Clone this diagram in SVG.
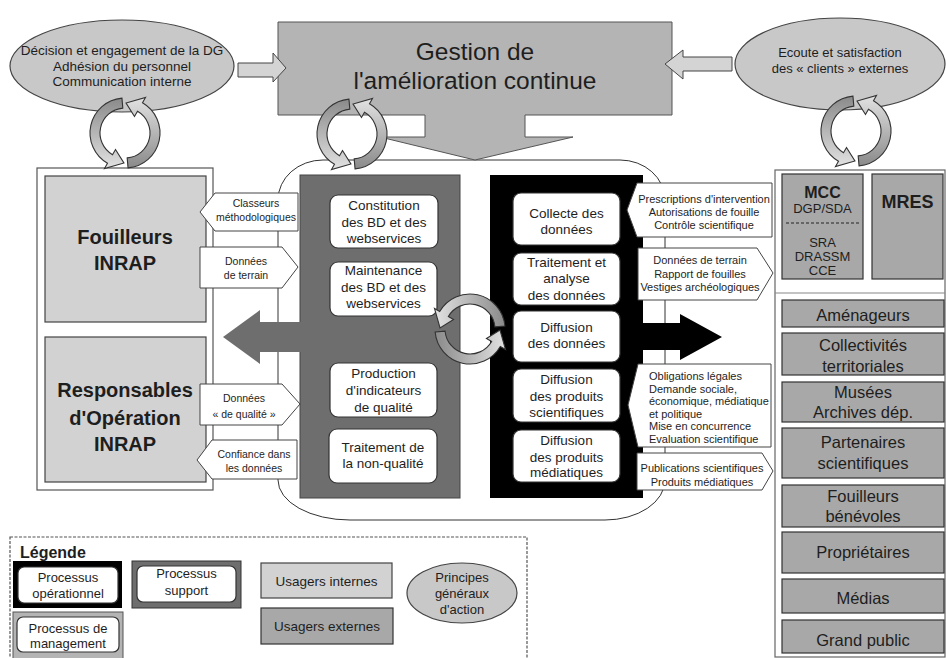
<svg xmlns="http://www.w3.org/2000/svg" width="946" height="658" viewBox="0 0 946 658">
<defs>
<style>
text{font-family:"Liberation Sans",Arial,Helvetica,sans-serif;fill:#1e1e1e;text-anchor:middle}
.f10{font-size:10.5px}
.f11{font-size:11px}
.f13{font-size:13px}
.f135{font-size:13.5px}
.f17{font-size:16.5px}
.big{font-size:20px;font-weight:bold}
.ell{fill:#c8c8c8;stroke:#444;stroke-width:1.2}
.wbox{fill:#fff;stroke:#333;stroke-width:1.2}
.flow{fill:#fff;stroke:#444;stroke-width:1}
.ext{fill:#a8a8a8;stroke:#333;stroke-width:1.2}
.int{fill:#d2d2d2;stroke:#444;stroke-width:1.2}
.garr{fill:#d4d4d4;stroke:#444;stroke-width:1}
.cyc{stroke:#333;stroke-width:1.1}
</style>
<linearGradient id="gL" x1="0" y1="0" x2="0" y2="1"><stop offset="0" stop-color="#8a8a8a"/><stop offset="1" stop-color="#e2e2e2"/></linearGradient>
<linearGradient id="gR" x1="0" y1="0" x2="0" y2="1"><stop offset="0" stop-color="#e2e2e2"/><stop offset="1" stop-color="#8a8a8a"/></linearGradient>
<g id="cycle">
<path class="cyc" fill="url(#gL)" d="M -3.05,-34.87 A 35 35 0 0 0 -17.5,30.31 L -20.5,35.51 L -1.05,29.98 L -9.5,16.45 L -12.5,21.65 A 25 25 0 0 1 -2.18,-24.9 Z"/>
<path class="cyc" fill="url(#gR)" d="M 3.05,34.87 A 35 35 0 0 0 17.5,-30.31 L 20.5,-35.51 L 1.05,-29.98 L 9.5,-16.45 L 12.5,-21.65 A 25 25 0 0 1 2.18,24.9 Z"/>
</g>
</defs>
<rect width="946" height="658" fill="#fff"/>

<!-- central rounded enclosure -->
<g id="enclosure">
<path d="M 323,160 H 620 A 45 40 0 0 1 665 200 V 480 A 60 40 0 0 1 605 520 H 350 A 72 40 0 0 1 278 480 V 200 A 45 40 0 0 1 323 160 Z" fill="#fff" stroke="#333" stroke-width="1"/>
</g>

<!-- top ellipses and management -->
<g id="principes-internes">
<ellipse class="ell" cx="122" cy="66" rx="112" ry="46"/>
<text class="f135" x="122" y="55">Décision et engagement de la DG</text>
<text class="f135" x="122" y="70.5">Adhésion du personnel</text>
<text class="f135" x="122" y="86">Communication interne</text>
</g>
<g id="principes-externes">
<ellipse class="ell" cx="840" cy="64" rx="105" ry="46"/>
<text class="f13" x="840" y="57">Ecoute et satisfaction</text>
<text class="f13" x="840" y="73">des « clients » externes</text>
</g>
<g id="gestion">
<path d="M 278,22 H 672 V 115 H 525 V 137 H 573 L 475,160 L 380,137 H 425 V 115 H 278 Z" fill="#b4b4b4" stroke="#555" stroke-width="1"/>
<text x="475" y="60" style="font-size:24.5px">Gestion de</text>
<text x="475" y="89" style="font-size:24.5px">l'amélioration continue</text>
</g>

<!-- left panel: internal users -->
<g id="usagers-internes">
<rect x="37" y="168" width="176" height="322" fill="#fff" stroke="#555" stroke-width="1.2"/>
<g id="fouilleurs-inrap">
<rect class="int" x="45" y="176" width="161" height="146"/>
<text class="big" x="125" y="244">Fouilleurs</text>
<text class="big" x="125" y="270">INRAP</text>
</g>
<g id="responsables">
<rect class="int" x="45" y="337" width="161" height="145"/>
<text class="big" x="125" y="397">Responsables</text>
<text class="big" x="125" y="425">d'Opération</text>
<text class="big" x="125" y="451">INRAP</text>
</g>
</g>

<!-- support process column -->
<g id="processus-support">
<rect x="300" y="175" width="160" height="323" fill="#6e6e6e" stroke="#444" stroke-width="1"/>
<g id="constitution">
<rect class="wbox" x="330" y="195" width="108" height="53" rx="8"/>
<text class="f135" x="384" y="210">Constitution</text>
<text class="f135" x="384" y="226.5">des BD et des</text>
<text class="f135" x="384" y="243">webservices</text>
</g>
<g id="maintenance">
<rect class="wbox" x="330" y="262" width="107" height="54" rx="8"/>
<text class="f135" x="383.5" y="275">Maintenance</text>
<text class="f135" x="383.5" y="292">des BD et des</text>
<text class="f135" x="383.5" y="308">webservices</text>
</g>
<g id="production">
<rect class="wbox" x="330" y="363" width="107" height="54" rx="8"/>
<text class="f135" x="383.5" y="378">Production</text>
<text class="f135" x="383.5" y="395">d'indicateurs</text>
<text class="f135" x="383.5" y="412">de qualité</text>
</g>
<g id="non-qualite">
<rect class="wbox" x="329" y="429" width="108" height="54" rx="8"/>
<text class="f135" x="383" y="452">Traitement de</text>
<text class="f135" x="383" y="468">la non-qualité</text>
</g>
</g>

<!-- operational process column -->
<g id="processus-operationnel">
<rect x="490" y="175" width="153" height="323" fill="#000"/>
<g id="collecte">
<rect class="wbox" x="513" y="193" width="107" height="52" rx="8"/>
<text class="f135" x="566.5" y="218">Collecte des</text>
<text class="f135" x="566.5" y="234">données</text>
</g>
<g id="traitement">
<rect class="wbox" x="513" y="253" width="107" height="52" rx="8"/>
<text class="f135" x="566.5" y="267">Traitement et</text>
<text class="f135" x="566.5" y="283">analyse</text>
<text class="f135" x="566.5" y="300">des données</text>
</g>
<g id="diffusion-donnees">
<rect class="wbox" x="513" y="311" width="107" height="51" rx="8"/>
<text class="f135" x="566.5" y="332">Diffusion</text>
<text class="f135" x="566.5" y="348">des données</text>
</g>
<g id="diffusion-scientifiques">
<rect class="wbox" x="513" y="369" width="107" height="53" rx="8"/>
<text class="f135" x="566.5" y="384">Diffusion</text>
<text class="f135" x="566.5" y="401">des produits</text>
<text class="f135" x="566.5" y="417">scientifiques</text>
</g>
<g id="diffusion-mediatiques">
<rect class="wbox" x="513" y="430" width="107" height="52" rx="8"/>
<text class="f135" x="566.5" y="445">Diffusion</text>
<text class="f135" x="566.5" y="462">des produits</text>
<text class="f135" x="566.5" y="477">médiatiques</text>
</g>
</g>

<!-- right panel: external users -->
<g id="usagers-externes">
<rect x="775" y="170" width="170" height="487" fill="#fff" stroke="#666" stroke-width="1.2"/>
<line x1="775" y1="293" x2="945" y2="293" stroke="#888" stroke-width="1.2"/>
<g id="mcc">
<rect class="ext" x="782" y="174" width="81" height="105"/>
<text x="822.5" y="198" style="font-size:16px;font-weight:bold">MCC</text>
<text class="f13" x="822.5" y="213">DGP/SDA</text>
<line x1="786" y1="223" x2="859" y2="223" stroke="#222" stroke-width="1.2" stroke-dasharray="3,2"/>
<text class="f13" x="822.5" y="247">SRA</text>
<text class="f13" x="822.5" y="261">DRASSM</text>
<text class="f13" x="822.5" y="275">CCE</text>
</g>
<g id="mres">
<rect class="ext" x="872" y="174" width="71" height="105"/>
<text x="907.5" y="208" style="font-size:18px;font-weight:bold">MRES</text>
</g>
<g id="amenageurs"><rect class="ext" x="782" y="300" width="162" height="27"/><text class="f17" x="863" y="321">Aménageurs</text></g>
<g id="collectivites"><rect class="ext" x="782" y="333" width="162" height="42"/><text class="f17" x="863" y="351">Collectivités</text><text class="f17" x="863" y="371.5">territoriales</text></g>
<g id="musees"><rect class="ext" x="782" y="382" width="162" height="40"/><text class="f17" x="863" y="398">Musées</text><text class="f17" x="863" y="417.5">Archives dép.</text></g>
<g id="partenaires"><rect class="ext" x="782" y="428" width="162" height="50"/><text class="f17" x="863" y="448">Partenaires</text><text class="f17" x="863" y="469">scientifiques</text></g>
<g id="benevoles"><rect class="ext" x="782" y="485" width="162" height="42"/><text class="f17" x="863" y="502">Fouilleurs</text><text class="f17" x="863" y="522">bénévoles</text></g>
<g id="proprietaires"><rect class="ext" x="782" y="532" width="162" height="41"/><text class="f17" x="863" y="558">Propriétaires</text></g>
<g id="medias"><rect class="ext" x="782" y="579" width="162" height="34"/><text class="f17" x="863" y="604">Médias</text></g>
<g id="grand-public"><rect class="ext" x="782" y="620" width="162" height="33"/><text class="f17" x="863" y="646">Grand public</text></g>
</g>

<!-- connectors -->
<g id="connectors">
<path class="garr" d="M 238,63 H 273 V 53 L 286,68 L 273,82 V 77 H 238 Z"/>
<path class="garr" d="M 732,57 H 683 V 50 L 665,64 L 683,79 V 71 H 732 Z"/>
<path d="M 302,322 H 260 V 310 L 223,337 L 260,364 V 352 H 302 Z" fill="#6e6e6e"/>
<path d="M 641,323 H 680 V 314 L 722,337 L 680,360 V 350 H 641 Z" fill="#000"/>
<g id="flow-classeurs">
<path class="flow" d="M 200,212 L 215,193 H 298 V 231 H 215 Z"/>
<text class="f10" x="256" y="207">Classeurs</text>
<text class="f10" x="256" y="221">méthodologiques</text>
</g>
<g id="flow-donnees-terrain">
<path class="flow" d="M 200,247 H 282 L 298,267 L 282,288 H 200 Z"/>
<text class="f10" x="246" y="265">Données</text>
<text class="f10" x="246" y="279">de terrain</text>
</g>
<g id="flow-donnees-qualite">
<path class="flow" d="M 200,384 H 282 L 300,404 L 282,425 H 200 Z"/>
<text class="f10" x="244" y="402">Données</text>
<text class="f10" x="244" y="418">« de qualité »</text>
</g>
<g id="flow-confiance">
<path class="flow" d="M 197,460 L 212,440 H 297 V 479 H 212 Z"/>
<text class="f10" x="254" y="458">Confiance dans</text>
<text class="f10" x="254" y="472">les données</text>
</g>
<g id="flow-prescriptions">
<path class="flow" d="M 627,210 L 637,183 H 772 V 237 H 637 Z"/>
<text class="f11" x="704" y="203">Prescriptions d'intervention</text>
<text class="f11" x="704" y="216">Autorisations de fouille</text>
<text class="f11" x="704" y="229">Contrôle scientifique</text>
</g>
<g id="flow-resultats">
<path class="flow" d="M 638,248 H 757 L 773,273 L 757,300 H 638 Z"/>
<text class="f11" x="700" y="264">Données de terrain</text>
<text class="f11" x="700" y="277.5">Rapport de fouilles</text>
<text class="f11" x="700" y="291">Vestiges archéologiques</text>
</g>
<g id="flow-obligations">
<path class="flow" d="M 628,405 L 638,364 H 771 V 447 H 638 Z"/>
<text class="f11" x="649" y="380" style="text-anchor:start">Obligations légales</text>
<text class="f11" x="649" y="392.5" style="text-anchor:start">Demande sociale,</text>
<text class="f11" x="649" y="405" style="text-anchor:start">économique, médiatique</text>
<text class="f11" x="649" y="417.5" style="text-anchor:start">et politique</text>
<text class="f11" x="649" y="430" style="text-anchor:start">Mise en concurrence</text>
<text class="f11" x="649" y="442.5" style="text-anchor:start">Evaluation scientifique</text>
</g>
<g id="flow-publications">
<path class="flow" d="M 637,453 H 762 L 773,471 L 762,490 H 637 Z"/>
<text class="f11" x="702" y="472">Publications scientifiques</text>
<text class="f11" x="702" y="486">Produits médiatiques</text>
</g>
</g>

<!-- cycle icons -->
<g id="cycles">
<use href="#cycle" transform="translate(125,133)"/>
<use href="#cycle" transform="translate(352,134)"/>
<use href="#cycle" transform="translate(856,131)"/>
<use href="#cycle" transform="translate(470,329) rotate(90)"/>
</g>

<!-- legend -->
<g id="legende">
<rect x="10" y="537" width="517" height="130" fill="#fff" stroke="#555" stroke-width="1.2" stroke-dasharray="3,1.5"/>
<text x="20" y="558" style="font-size:16px;font-weight:bold;text-anchor:start">Légende</text>
<g id="leg-operationnel">
<rect x="13" y="561" width="109" height="47" fill="#000"/>
<rect class="wbox" x="18" y="567" width="100" height="36" rx="6"/>
<text class="f13" x="68" y="582">Processus</text>
<text class="f13" x="68" y="598">opérationnel</text>
</g>
<g id="leg-support">
<rect x="132" y="561" width="109" height="47" fill="#6e6e6e" stroke="#333" stroke-width="1"/>
<rect class="wbox" x="137" y="566" width="99" height="36" rx="6"/>
<text class="f13" x="186.5" y="578">Processus</text>
<text class="f13" x="186.5" y="595">support</text>
</g>
<g id="leg-management">
<rect x="13" y="612" width="110" height="50" fill="#b4b4b4" stroke="#555" stroke-width="1"/>
<rect class="wbox" x="17" y="617" width="102" height="35" rx="6"/>
<text class="f13" x="68" y="633">Processus de</text>
<text class="f13" x="68" y="648">management</text>
</g>
<g id="leg-internes">
<rect class="int" x="261" y="563" width="131" height="35"/>
<text class="f135" x="326.5" y="586">Usagers internes</text>
</g>
<g id="leg-externes">
<rect class="ext" x="261" y="608" width="132" height="36"/>
<text class="f135" x="327" y="631">Usagers externes</text>
</g>
<g id="leg-principes">
<ellipse class="ell" cx="462" cy="593" rx="55" ry="30"/>
<text class="f13" x="462" y="582">Principes</text>
<text class="f13" x="462" y="598">généraux</text>
<text class="f13" x="462" y="614">d'action</text>
</g>
</g>
</svg>
